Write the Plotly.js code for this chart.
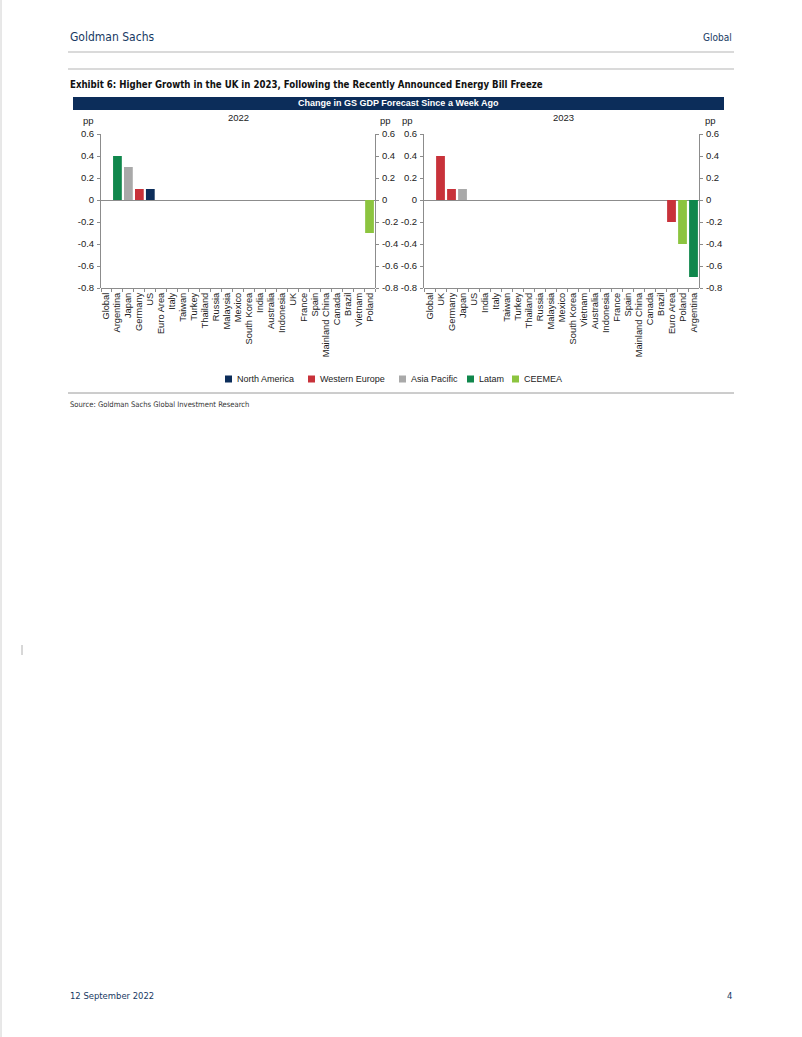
<!DOCTYPE html>
<html>
<head>
<meta charset="utf-8">
<script src="https://cdn.plot.ly/plotly-3.0.1.min.js"></script>
<style>
  html, body { margin: 0; padding: 0; background: #fff; }
  #chart { width: 802px; height: 1037px; }
</style>
</head>
<body>
<div id="chart"></div>
<script>
const countries2022 = ["Global", "Argentina", "Japan", "Germany", "US", "Euro Area", "Italy", "Taiwan", "Turkey", "Thailand", "Russia", "Malaysia", "Mexico", "South Korea", "India", "Australia", "Indonesia", "UK", "France", "Spain", "Mainland China", "Canada", "Brazil", "Vietnam", "Poland"];
const values2022 = [0, 0.4, 0.3, 0.1, 0.1, 0, 0, 0, 0, 0, 0, 0, 0, 0, 0, 0, 0, 0, 0, 0, 0, 0, 0, 0, -0.3];
const regions2022 = ["Global", "Latam", "Asia Pacific", "Western Europe", "North America", "Western Europe", "Western Europe", "Asia Pacific", "CEEMEA", "Asia Pacific", "CEEMEA", "Asia Pacific", "Latam", "Asia Pacific", "Asia Pacific", "Asia Pacific", "Asia Pacific", "Western Europe", "Western Europe", "Western Europe", "Asia Pacific", "North America", "Latam", "Asia Pacific", "CEEMEA"];

const countries2023 = ["Global", "UK", "Germany", "Japan", "US", "India", "Italy", "Taiwan", "Turkey", "Thailand", "Russia", "Malaysia", "Mexico", "South Korea", "Vietnam", "Australia", "Indonesia", "France", "Spain", "Mainland China", "Canada", "Brazil", "Euro Area", "Poland", "Argentina"];
const values2023 = [0, 0.4, 0.1, 0.1, 0, 0, 0, 0, 0, 0, 0, 0, 0, 0, 0, 0, 0, 0, 0, 0, 0, 0, -0.2, -0.4, -0.7];
const regions2023 = ["Global", "Western Europe", "Western Europe", "Asia Pacific", "North America", "Asia Pacific", "Western Europe", "Asia Pacific", "CEEMEA", "Asia Pacific", "CEEMEA", "Asia Pacific", "Latam", "Asia Pacific", "Asia Pacific", "Asia Pacific", "Asia Pacific", "Western Europe", "Western Europe", "Asia Pacific", "North America", "Latam", "Western Europe", "CEEMEA", "Latam"];

const regionNames = ["North America", "Western Europe", "Asia Pacific", "Latam", "CEEMEA"];
const regionColors = ["#0c2d5a", "#c8323a", "#a9a9a9", "#10874c", "#8cc43f"];
const yTicks = [0.6, 0.4, 0.2, 0, -0.2, -0.4, -0.6, -0.8];

const W = 802, H = 1037;
const px = (x) => x / W;
const py = (y) => 1 - y / H;
const sans = "Liberation Sans, Arial, sans-serif";
const narrow = "DejaVu Sans Condensed, Liberation Sans Narrow, sans-serif";
const tickFont = { family: sans, size: 9.5, color: "#222" };

const traces = [];
function addPanel(countries, values, regions, xa, ya) {
  regionNames.forEach((r, i) => {
    const xs = [], ys = [];
    countries.forEach((c, j) => {
      if (regions[j] === r) { xs.push(c); ys.push(values[j]); }
    });
    traces.push({
      type: "bar", x: xs, y: ys, name: r,
      marker: { color: regionColors[i] },
      xaxis: xa, yaxis: ya, showlegend: false,
    });
  });
}
addPanel(countries2022, values2022, regions2022, "x", "y");
addPanel(countries2023, values2023, regions2023, "x2", "y3");
// right-side y axes repeat the labels
traces.push({ type: "scatter", x: [null], y: [null], xaxis: "x", yaxis: "y2", showlegend: false });
traces.push({ type: "scatter", x: [null], y: [null], xaxis: "x2", yaxis: "y4", showlegend: false });

const yDomain = [py(288), py(134)];
function xAxis(countries, d0, d1) {
  return {
    type: "category",
    domain: [px(d0), px(d1)],
    anchor: "free",
    position: yDomain[0],
    range: [-0.5, countries.length - 0.5],
    categoryorder: "array",
    categoryarray: countries,
    tickmode: "array",
    tickvals: countries,
    ticktext: countries,
    tickangle: -90,
    tickfont: { family: sans, size: 9.3, color: "#222" },
    showline: true,
    linecolor: "#8c8c8c",
    ticks: "outside",
    ticklen: 3,
    tickcolor: "#8c8c8c",
    tickson: "boundaries",
    showgrid: false,
    zeroline: false,
  };
}
function yAxis(anchor, side, overlay) {
  const ax = {
    range: [-0.8, 0.6],
    domain: yDomain,
    anchor: anchor,
    side: side,
    tickmode: "array",
    tickvals: yTicks,
    ticktext: yTicks.map((v) => String(v)),
    tickfont: tickFont,
    showline: true,
    linecolor: "#8c8c8c",
    ticks: "outside",
    ticklen: 3,
    tickcolor: "#8c8c8c",
    ticklabelstandoff: 1,
    showgrid: false,
    zeroline: !overlay,
    zerolinecolor: "#8c8c8c",
    zerolinewidth: 1,
  };
  if (overlay) ax.overlaying = overlay;
  return ax;
}

// hand-drawn legend (small square keys as in the source)
const legendX = [225, 308, 399, 467, 512];
const legendShapes = regionNames.map((r, i) => ({
  type: "rect", xref: "paper", yref: "paper",
  x0: px(legendX[i]), x1: px(legendX[i] + 7), y0: py(382.5), y1: py(375.5),
  fillcolor: regionColors[i], line: { width: 0 },
}));
const legendText = regionNames.map((r, i) => ({
  text: r, x: px(legendX[i] + 10), y: py(379), xanchor: "left", yanchor: "middle",
  font: { family: sans, size: 9, color: "#222" },
}));

const layout = {
  width: W,
  height: H,
  margin: { l: 0, r: 0, t: 0, b: 0 },
  paper_bgcolor: "#fff",
  plot_bgcolor: "rgba(0,0,0,0)",
  barmode: "relative",
  bargap: 0.2,
  showlegend: false,
  xaxis: xAxis(countries2022, 101, 375),
  xaxis2: xAxis(countries2023, 424, 699),
  yaxis: yAxis("x", "left"),
  yaxis2: yAxis("x", "right", "y"),
  yaxis3: yAxis("x2", "left"),
  yaxis4: yAxis("x2", "right", "y3"),
  shapes: [
    { type: "line", xref: "paper", yref: "paper", x0: px(68), x1: px(734), y0: py(52), y1: py(52), line: { color: "#b5b5b5", width: 1 } },
    { type: "line", xref: "paper", yref: "paper", x0: px(68), x1: px(734), y0: py(69), y1: py(69), line: { color: "#b5b5b5", width: 1 } },
    { type: "rect", xref: "paper", yref: "paper", x0: px(73), x1: px(724), y0: py(110), y1: py(97), fillcolor: "#0c2d5a", line: { width: 0 } },
    { type: "line", xref: "paper", yref: "paper", x0: px(68), x1: px(734), y0: py(393), y1: py(393), line: { color: "#9a9a9a", width: 1 } },
    { type: "line", xref: "paper", yref: "paper", x0: px(1), x1: px(1), y0: 0, y1: 1, line: { color: "#d0d0d0", width: 1 } },
    { type: "line", xref: "paper", yref: "paper", x0: px(22), x1: px(22), y0: py(645), y1: py(655), line: { color: "#b0b0b0", width: 1 } },
  ].concat(legendShapes),
  annotations: [
    { text: "Goldman Sachs", x: px(68), y: py(37), xanchor: "left", yanchor: "middle", font: { family: narrow, size: 12, color: "#173a63" } },
    { text: "Global", x: px(734), y: py(38), xanchor: "right", yanchor: "middle", font: { family: narrow, size: 10, color: "#173a63" } },
    { text: "<b>Exhibit 6: Higher Growth in the UK in 2023, Following the Recently Announced Energy Bill Freeze</b>", x: px(68), y: py(84), xanchor: "left", yanchor: "middle", font: { family: narrow, size: 9.6, color: "#111" } },
    { text: "<b>Change in GS GDP Forecast Since a Week Ago</b>", x: px(398), y: py(103.5), xanchor: "center", yanchor: "middle", font: { family: sans, size: 9, color: "#fff" } },
    { text: "2022", x: px(239), y: py(117), xanchor: "center", yanchor: "middle", font: tickFont },
    { text: "2023", x: px(563), y: py(117), xanchor: "center", yanchor: "middle", font: tickFont },
    { text: "pp", x: px(88), y: py(121), xanchor: "center", yanchor: "middle", font: tickFont },
    { text: "pp", x: px(385), y: py(121), xanchor: "center", yanchor: "middle", font: tickFont },
    { text: "pp", x: px(408), y: py(121), xanchor: "center", yanchor: "middle", font: tickFont },
    { text: "pp", x: px(710), y: py(121), xanchor: "center", yanchor: "middle", font: tickFont },
    { text: "Source: Goldman Sachs Global Investment Research", x: px(68), y: py(404), xanchor: "left", yanchor: "middle", font: { family: narrow, size: 7.6, color: "#333" } },
    { text: "12 September 2022", x: px(68), y: py(995), xanchor: "left", yanchor: "middle", font: { family: narrow, size: 9.4, color: "#173a63" } },
    { text: "4", x: px(734), y: py(995), xanchor: "right", yanchor: "middle", font: { family: narrow, size: 9.4, color: "#173a63" } },
  ].concat(legendText).map((a) => Object.assign({ xref: "paper", yref: "paper", showarrow: false }, a)),
};

Plotly.newPlot("chart", traces, layout, { displayModeBar: false, staticPlot: true });
</script>
</body>
</html>
